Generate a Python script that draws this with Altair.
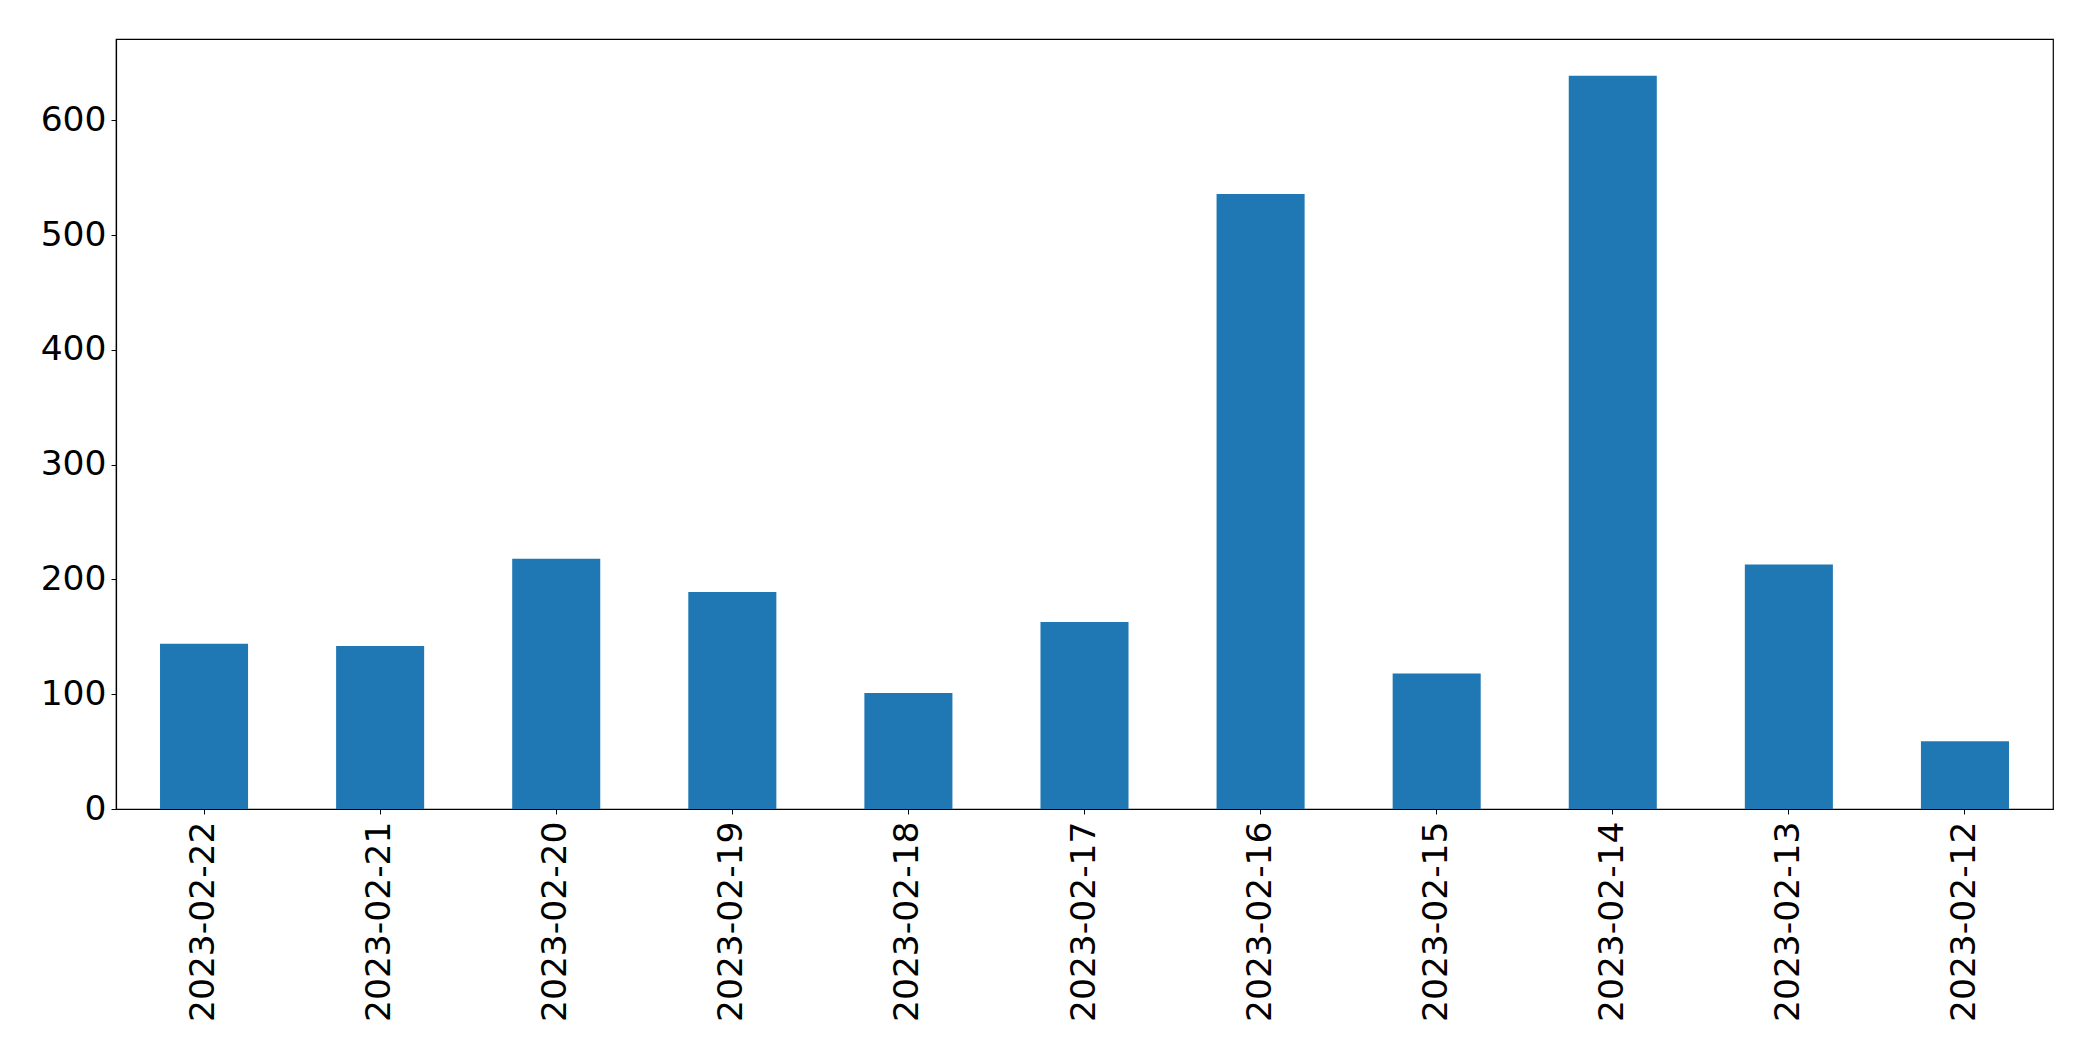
import altair as alt
import pandas as pd

dates = ["2023-02-22", "2023-02-21", "2023-02-20", "2023-02-19", "2023-02-18",
         "2023-02-17", "2023-02-16", "2023-02-15", "2023-02-14", "2023-02-13",
         "2023-02-12"]
counts = [144, 142, 218, 189, 101, 163, 536, 118, 639, 213, 59]
y_ticks = [0, 100, 200, 300, 400, 500, 600]

df = pd.DataFrame({"date": dates, "count": counts})

FONT = "DejaVu Sans"
FS = 34.5

chart = alt.Chart(df).mark_bar(color="#1f77b4").encode(
    x=alt.X("date:N", sort=dates,
            scale=alt.Scale(paddingInner=0.5, paddingOuter=0.25),
            axis=alt.Axis(title=None, labelAngle=-90, labelAlign="right",
                          labelBaseline="middle", labelFontSize=FS,
                          labelFont=FONT, labelColor="black", labelLimit=0,
                          tickSize=5, tickColor="black", labelPadding=7,
                          domainColor="black", domainWidth=1.2)),
    y=alt.Y("count:Q", scale=alt.Scale(domain=[0, 671], nice=False, zero=True),
            axis=alt.Axis(title=None, values=y_ticks, grid=False,
                          labelFontSize=FS, labelFont=FONT, labelColor="black",
                          labelLimit=0,
                          tickSize=5, tickColor="black", labelPadding=5,
                          domainColor="black", domainWidth=1.2)),
).properties(
    width=1937,
    height=770,
    background="white",
    autosize=alt.AutoSizeParams(type="none"),
    padding={"left": 108, "top": 31, "right": 30, "bottom": 240},
).configure_view(
    stroke="black", strokeWidth=1.2
)

chart.save("out.html", embed_options={"renderer": "svg", "actions": False})
